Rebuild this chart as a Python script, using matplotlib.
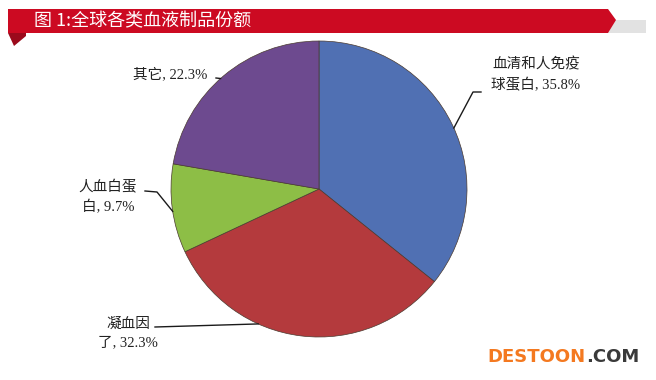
import matplotlib
matplotlib.use("Agg")
import matplotlib.pyplot as plt
import numpy as np
from matplotlib.patches import Polygon

plt.rcParams["font.family"] = ["Noto Sans CJK SC", "DejaVu Sans"]
LABEL_FONT = ["Liberation Serif", "Noto Sans CJK SC"]

TITLE = "图 1:全球各类血液制品份额"
NAMES = ["血清和人免疫\n球蛋白", "凝血因\n了", "人血白蛋\n白", "其它"]
SHARES = [35.8, 32.3, 9.7, 22.3]
COLORS = ["#5070b3", "#b43a3d", "#8dbe46", "#6d4a8f"]

W, H = 656, 380
fig = plt.figure(figsize=(W / 100, H / 100), dpi=100)
ax = fig.add_axes([0, 0, 1, 1])


def img(pts):
    # image coords (y down) -> axes data coords
    return [(x, H - y) for x, y in pts]


# title banner
ax.add_patch(Polygon(img([(612, 20), (646, 20), (646, 33), (606, 33)]),
                     closed=True, color="#e2e2e2", lw=0))
ax.add_patch(Polygon(img([(8, 9), (608, 9), (616, 20), (608, 33), (8, 33)]),
                     closed=True, color="#cc0a22", lw=0))
ax.add_patch(Polygon(img([(8, 33), (26, 33), (26, 36), (14, 46), (8, 33)]),
                     closed=True, color="#9b0a1c", lw=0))
ax.text(34, H - 21, TITLE, color="white", fontsize=13, va="center", ha="left")

cx, cy, r = 319, H - 189, 148
wedges, _ = ax.pie(SHARES, colors=COLORS, startangle=90, counterclock=False,
                   center=(cx, cy), radius=r, frame=True,
                   wedgeprops=dict(linewidth=0.5, edgecolor="#4a3a30"))
ax.set_xlim(0, W)
ax.set_ylim(0, H)
ax.set_aspect("equal")
ax.axis("off")

# label block centres, leader start and elbow (image coords), where on wedge
label_pos = [(536, 75), (128, 333), (108, 197), (170, 74)]
tails = [(481, 92), (155, 327), (145, 191), (216, 78)]
elbows = [(473, 92), (155, 327), (157, 192), (216, 78)]
edge_frac = [0.49, 0.35, 0.53, 0.52]

for w, name, val, lp, tl, el, fr in zip(wedges, NAMES, SHARES, label_pos,
                                        tails, elbows, edge_frac):
    text = f"{name}, {val}%"
    ax.text(lp[0], H - lp[1], text, fontsize=10.5, color="#222222",
            family=LABEL_FONT, ha="center", va="center",
            multialignment="center", linespacing=1.55)
    ang = np.deg2rad(w.theta1 + fr * (w.theta2 - w.theta1))
    px, py = cx + r * np.cos(ang), cy + r * np.sin(ang)
    ax.plot([tl[0], el[0], px], [H - tl[1], H - el[1], py],
            color="#1a1a1a", lw=1.0)

# watermark
t1 = ax.text(487, H - 357, "DESTOON", color="#f47920", fontsize=13,
             family="DejaVu Sans", fontweight="bold", ha="left", va="center")
fig.canvas.draw()
bb = t1.get_window_extent(fig.canvas.get_renderer())
ax.text(bb.x1 + 1, H - 357, ".COM", color="#3a3a3a", fontsize=13,
        family="DejaVu Sans", fontweight="bold", ha="left", va="center")

fig.savefig("out.png", dpi=100)
